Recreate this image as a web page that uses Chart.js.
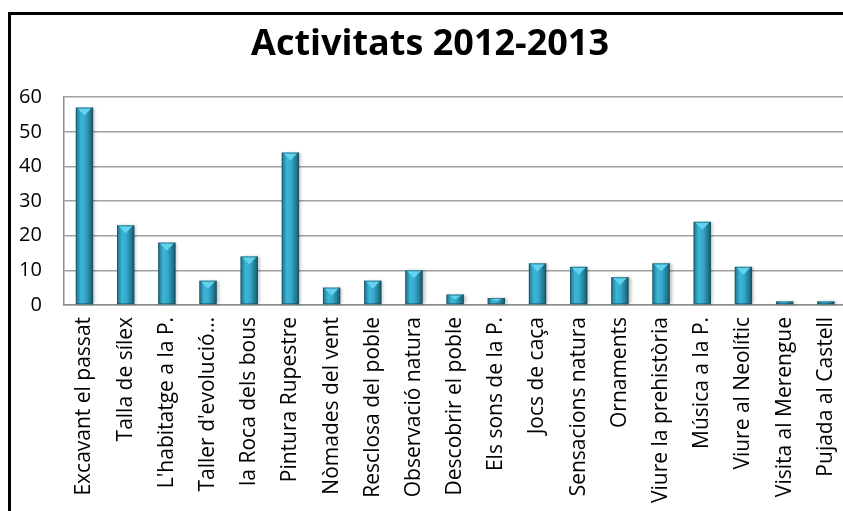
<!DOCTYPE html>
<html>
<head>
<meta charset="utf-8">
<script src="https://cdn.jsdelivr.net/npm/chart.js@4/dist/chart.umd.min.js"></script>
<style>
  html, body { margin: 0; padding: 0; background: #fff; overflow: hidden; }
  #wrap { position: relative; width: 843px; height: 511px; overflow: hidden; }
  #frame { position: absolute; left: 8px; top: 12px; width: 900px; height: 600px; border: 3px solid #000; }
  canvas { position: absolute; left: -3px; top: 0; }
</style>
</head>
<body>
<div id="wrap">
  <div id="frame"></div>
  <canvas id="grafic" width="866" height="515"></canvas>
</div>
<script>
// dades
const activitats = [
  'Excavant el passat', 'Talla de sílex', "L'habitatge a la P.", "Taller d'evolució…",
  'la Roca dels bous', 'Pintura Rupestre', 'Nòmades del vent', 'Resclosa del poble',
  'Observació natura', 'Descobrir el poble', 'Els sons de la P.', 'Jocs de caça',
  'Sensacions natura', 'Ornaments', 'Viure la prehistòria', 'Música a la P.',
  'Viure al Neolític', 'Visita al Merengue', 'Pujada al Castell'
];
const participants = [57, 23, 18, 7, 14, 44, 5, 7, 10, 3, 2, 12, 11, 8, 12, 24, 11, 1, 1];
const yTicks = [0, 10, 20, 30, 40, 50, 60];

// barres tipus cilindre amb la tapa clara
const barresPlugin = {
  id: 'barres',
  afterDatasetsDraw(chart) {
    const ctx = chart.ctx;
    chart.getDatasetMeta(0).data.forEach(bar => {
      const p = bar.getProps(['x', 'y', 'base', 'width'], true);
      const l = p.x - p.width / 2, r = p.x + p.width / 2;
      const g = ctx.createLinearGradient(l, 0, r, 0);
      g.addColorStop(0, '#1f7189');
      g.addColorStop(0.3, '#3cb6d8');
      g.addColorStop(0.55, '#35a9cb');
      g.addColorStop(1, '#175a6e');
      ctx.save();
      ctx.shadowColor = 'rgba(0,0,0,0.25)';
      ctx.shadowOffsetX = 2;
      ctx.shadowBlur = 3;
      ctx.fillStyle = g;
      ctx.fillRect(l, p.y, p.width, p.base - p.y);
      ctx.restore();
      const cap = Math.min(8, (p.base - p.y) / 2);
      ctx.save();
      ctx.fillStyle = '#62d3ef';
      ctx.beginPath();
      ctx.moveTo(l + 1, p.y);
      ctx.lineTo(r - 1, p.y);
      ctx.lineTo(p.x, p.y + cap);
      ctx.closePath();
      ctx.fill();
      ctx.strokeStyle = 'rgba(20,70,85,0.6)';
      ctx.lineWidth = 1;
      ctx.strokeRect(l + 0.5, p.y + 0.5, p.width - 1, p.base - p.y - 1);
      ctx.restore();
    });
  }
};

const config = {
  type: 'bar',
  data: {
    labels: activitats,
    datasets: [{
      data: participants,
      backgroundColor: 'rgba(0,0,0,0)',
      borderWidth: 0,
      barPercentage: 0.42,
      categoryPercentage: 1
    }]
  },
  options: {
    responsive: false,
    animation: false,
    layout: { padding: { left: 0, right: 0, top: 0, bottom: 0 } },
    plugins: {
      legend: { display: false },
      tooltip: { enabled: false },
      title: {
        display: true,
        text: 'Activitats 2012-2013',
        color: '#000',
        font: { family: 'Open Sans', size: 36, weight: 'bold' },
        padding: { top: 23, bottom: 31 }
      }
    },
    scales: {
      x: {
        grid: { display: false, drawTicks: false },
        border: { color: '#8c8c8c', width: 1.5 },
        ticks: {
          color: '#000',
          font: { family: 'Open Sans', size: 21 },
          minRotation: 90,
          maxRotation: 90,
          autoSkip: false,
          padding: 12
        }
      },
      y: {
        min: 0,
        max: 60,
        afterBuildTicks: axis => { axis.ticks = yTicks.map(v => ({ value: v })); },
        grid: { color: '#a0a0a0', lineWidth: 1.5, drawTicks: false },
        border: { color: '#8c8c8c', width: 1.5 },
        ticks: {
          color: '#000',
          font: { family: 'Open Sans', size: 20 },
          padding: 22
        }
      }
    }
  },
  plugins: [barresPlugin]
};

const ctx = document.getElementById('grafic').getContext('2d');
new Chart(ctx, config);
</script>
</body>
</html>
